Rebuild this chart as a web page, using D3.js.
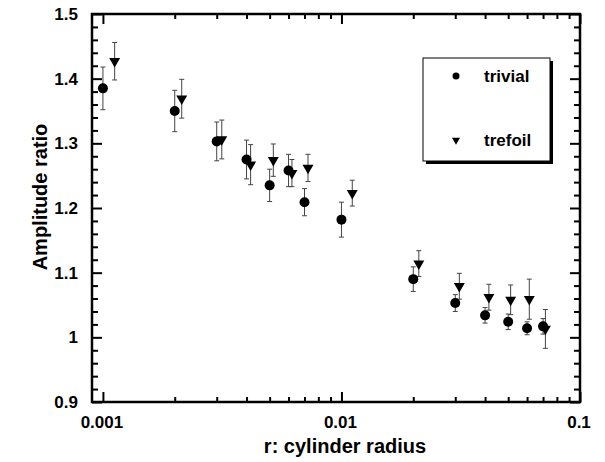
<!DOCTYPE html>
<html>
<head>
<meta charset="utf-8">
<script src="https://cdn.jsdelivr.net/npm/d3@7"></script>
<style>
  body { margin: 0; background: #fff; }
  svg text { font-family: "Liberation Sans", Arial, sans-serif; font-weight: bold; fill: #000; }
</style>
</head>
<body>
<div id="chart"></div>
<script>
// trivial knot
const radiusTrivial = [0.001, 0.002, 0.003, 0.004, 0.005, 0.006, 0.007, 0.01, 0.02, 0.03, 0.04, 0.05, 0.06, 0.07];
const ampTrivial = [1.385, 1.350, 1.303, 1.275, 1.235, 1.258, 1.209, 1.182, 1.090, 1.053, 1.034, 1.024, 1.014, 1.017];
const errTrivial = [0.033, 0.032, 0.030, 0.030, 0.025, 0.025, 0.021, 0.027, 0.019, 0.013, 0.012, 0.012, 0.010, 0.012];

// trefoil knot
const radiusTrefoil = [0.00112, 0.00214, 0.00315, 0.00416, 0.00518, 0.0062, 0.00724, 0.0111, 0.0211, 0.0312, 0.0415, 0.0512, 0.0613, 0.0716];
const ampTrefoil = [1.427, 1.369, 1.306, 1.267, 1.274, 1.254, 1.262, 1.223, 1.114, 1.079, 1.062, 1.058, 1.059, 1.013];
const errTrefoil = [0.029, 0.030, 0.030, 0.031, 0.025, 0.021, 0.021, 0.020, 0.020, 0.020, 0.020, 0.023, 0.031, 0.030];

const xMajor = [0.001, 0.01, 0.1];
const xMajorLabels = ["0.001", "0.01", "0.1"];
const xMinor = [0.002, 0.003, 0.004, 0.005, 0.006, 0.007, 0.008, 0.009,
                0.02, 0.03, 0.04, 0.05, 0.06, 0.07, 0.08, 0.09];
const yMajor = [0.9, 1, 1.1, 1.2, 1.3, 1.4, 1.5];
const yMajorLabels = ["0.9", "1", "1.1", "1.2", "1.3", "1.4", "1.5"];
const yMinor = [0.92, 0.94, 0.96, 0.98, 1.02, 1.04, 1.06, 1.08, 1.12, 1.14, 1.16, 1.18,
                1.22, 1.24, 1.26, 1.28, 1.32, 1.34, 1.36, 1.38, 1.42, 1.44, 1.46, 1.48];

const width = 605, height = 462;
const plot = { left: 92, right: 580, top: 14, bottom: 402 };

const svg = d3.select("#chart").append("svg")
    .attr("width", width)
    .attr("height", height);

const xScale = d3.scaleLog().domain([0.0009, 0.1]).range([plot.left, plot.right]);
const yScale = d3.scaleLinear().domain([0.9, 1.5]).range([plot.bottom, plot.top]);

function tickAxis(axisFn, scale, values, size, transform) {
    svg.append("g")
        .attr("transform", transform)
        .call(axisFn(scale).tickValues(values).tickSize(size).tickFormat(""))
        .call(g => g.select(".domain").remove())
        .selectAll("line")
        .attr("stroke", "#000")
        .attr("stroke-width", 2);
}

// ticks point inward on all four sides
tickAxis(d3.axisBottom, xScale, xMajor, -10, `translate(0,${plot.bottom})`);
tickAxis(d3.axisBottom, xScale, xMinor, -5, `translate(0,${plot.bottom})`);
tickAxis(d3.axisTop, xScale, xMajor, -10, `translate(0,${plot.top})`);
tickAxis(d3.axisTop, xScale, xMinor, -5, `translate(0,${plot.top})`);
tickAxis(d3.axisLeft, yScale, yMajor, -10, `translate(${plot.left},0)`);
tickAxis(d3.axisLeft, yScale, yMinor, -6, `translate(${plot.left},0)`);
tickAxis(d3.axisRight, yScale, yMajor, -10, `translate(${plot.right},0)`);
tickAxis(d3.axisRight, yScale, yMinor, -6, `translate(${plot.right},0)`);

// frame
svg.append("rect")
    .attr("x", plot.left)
    .attr("y", plot.top)
    .attr("width", plot.right - plot.left)
    .attr("height", plot.bottom - plot.top)
    .attr("fill", "none")
    .attr("stroke", "#000")
    .attr("stroke-width", 2.5);

// tick labels
svg.append("g").selectAll("text")
    .data(xMajor)
    .enter()
    .append("text")
    .attr("x", d => xScale(d) - 1)
    .attr("y", 428)
    .attr("text-anchor", "middle")
    .attr("font-size", 17)
    .text((d, i) => xMajorLabels[i]);

svg.append("g").selectAll("text")
    .data(yMajor)
    .enter()
    .append("text")
    .attr("x", 78)
    .attr("y", d => yScale(d))
    .attr("dy", "0.36em")
    .attr("text-anchor", "end")
    .attr("font-size", 17)
    .text((d, i) => yMajorLabels[i]);

// axis titles
svg.append("text")
    .attr("x", 345)
    .attr("y", 453)
    .attr("text-anchor", "middle")
    .attr("font-size", 20)
    .text("r: cylinder radius");

svg.append("text")
    .attr("transform", `translate(47,197) rotate(-90)`)
    .attr("text-anchor", "middle")
    .attr("font-size", 20)
    .text("Amplitude ratio");

// error bars
function errorBars(radius, amp, err) {
    const g = svg.append("g")
        .attr("stroke", "#444")
        .attr("stroke-width", 1);
    const bars = g.selectAll("g")
        .data(radius)
        .enter()
        .append("g");
    bars.append("line")
        .attr("x1", d => xScale(d))
        .attr("x2", d => xScale(d))
        .attr("y1", (d, i) => yScale(amp[i] + err[i]))
        .attr("y2", (d, i) => yScale(amp[i] - err[i]));
    [1, -1].forEach(s => {
        bars.append("line")
            .attr("x1", d => xScale(d) - 2.5)
            .attr("x2", d => xScale(d) + 2.5)
            .attr("y1", (d, i) => yScale(amp[i] + s * err[i]))
            .attr("y2", (d, i) => yScale(amp[i] + s * err[i]));
    });
}

errorBars(radiusTrivial, ampTrivial, errTrivial);
errorBars(radiusTrefoil, ampTrefoil, errTrefoil);

const triangle = d3.symbol().type(d3.symbolTriangle);

svg.append("g")
    .selectAll("circle")
    .data(radiusTrivial)
    .enter()
    .append("circle")
    .attr("cx", d => xScale(d))
    .attr("cy", (d, i) => yScale(ampTrivial[i]))
    .attr("r", 5)
    .attr("fill", "#000");

svg.append("g")
    .selectAll("path")
    .data(radiusTrefoil)
    .enter()
    .append("path")
    .attr("d", triangle.size(52))
    .attr("transform", (d, i) => `translate(${xScale(d)},${yScale(ampTrefoil[i])}) rotate(180)`)
    .attr("fill", "#000");

// legend with drop shadow
const legend = svg.append("g");
legend.append("rect")
    .attr("x", 426).attr("y", 61).attr("width", 127).attr("height", 103)
    .attr("fill", "#000");
legend.append("rect")
    .attr("x", 423).attr("y", 58).attr("width", 127).attr("height", 103)
    .attr("fill", "#fff").attr("stroke", "#000").attr("stroke-width", 1);
legend.append("circle")
    .attr("cx", 456).attr("cy", 76).attr("r", 3.5).attr("fill", "#000");
legend.append("path")
    .attr("d", triangle.size(28))
    .attr("transform", "translate(456,140) rotate(180)")
    .attr("fill", "#000");
legend.append("text")
    .attr("x", 484).attr("y", 82)
    .attr("font-size", 17)
    .text("trivial");
legend.append("text")
    .attr("x", 484).attr("y", 146)
    .attr("font-size", 17)
    .text("trefoil");
</script>
</body>
</html>
